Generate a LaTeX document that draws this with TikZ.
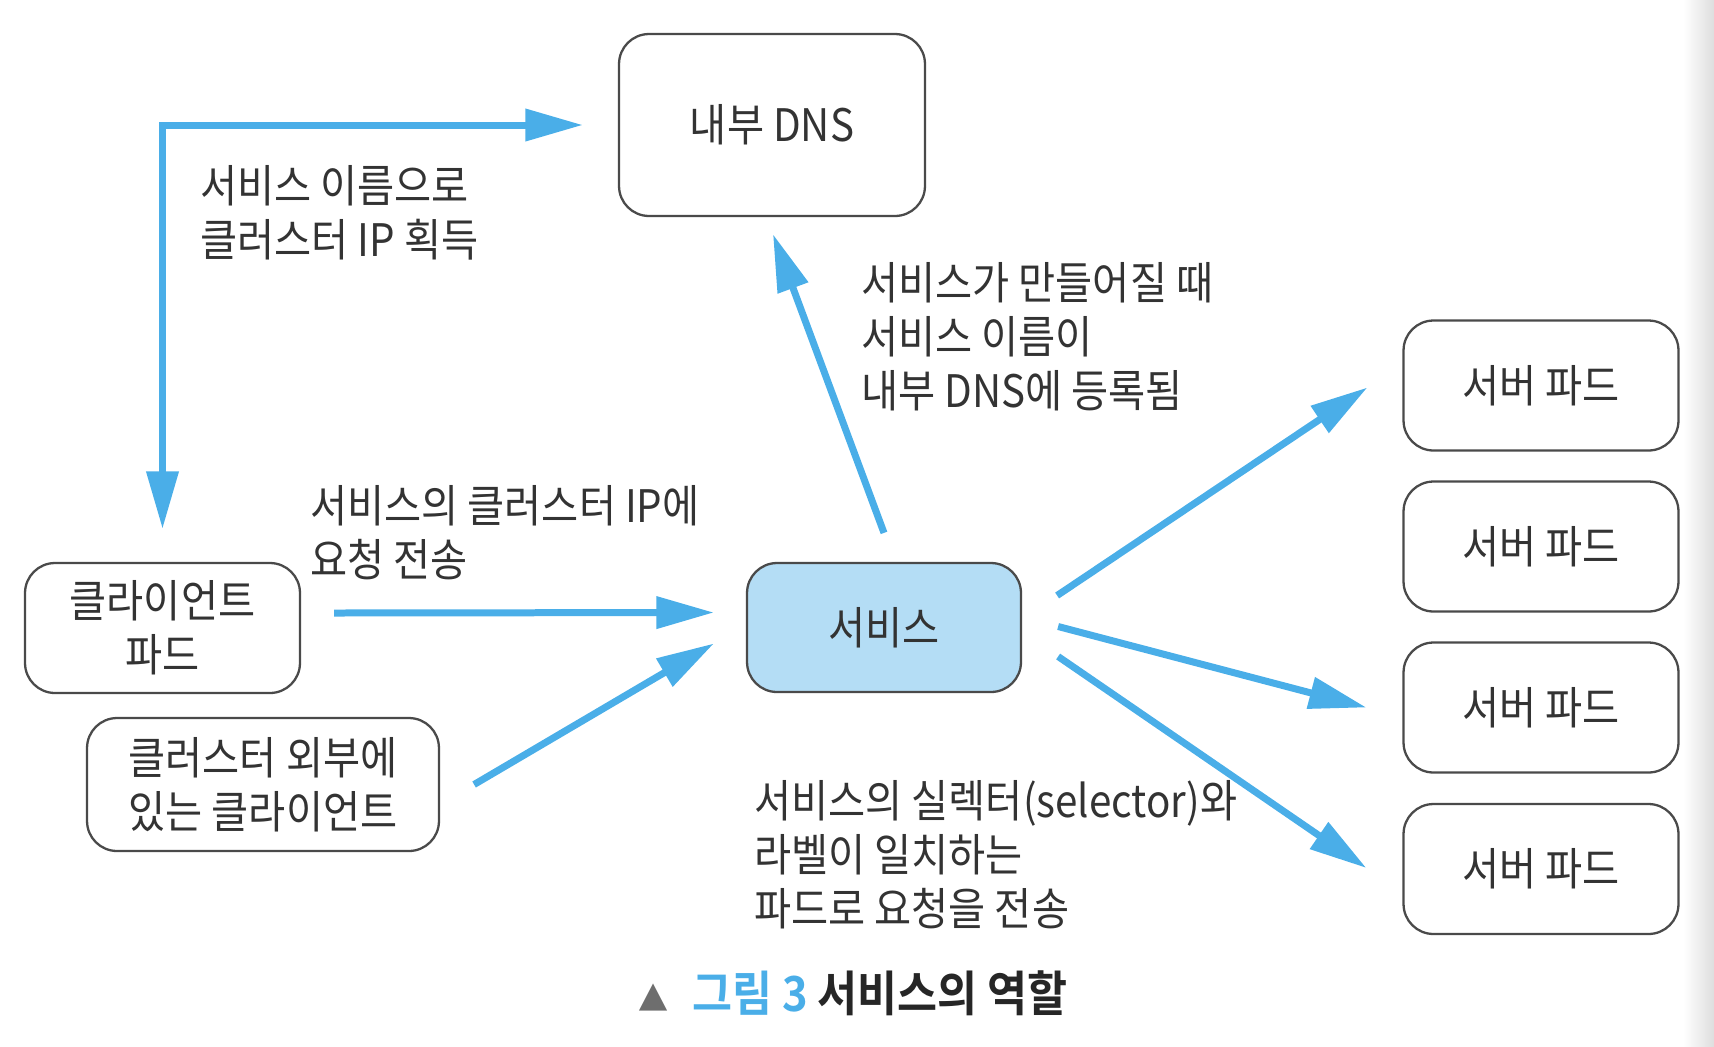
\documentclass[tikz,border=0pt]{standalone}
\usepackage{fontspec}
\setmainfont{Noto Sans CJK KR}[FakeStretch=0.9, BoldFont={Noto Sans CJK KR Bold}]
\usepackage{tikz}
\usetikzlibrary{arrows.meta}
\usetikzlibrary{calc}
\definecolor{flow}{HTML}{4AAEE8}
\definecolor{svcfill}{HTML}{B4DDF5}
\definecolor{edge}{HTML}{4A4A4A}
\definecolor{ink}{HTML}{333333}
\definecolor{capgray}{HTML}{6E6E6E}

\begin{document}
\begin{tikzpicture}[
        x=0.02cm, y=-0.02cm,
        every node/.style={font=\fontsize{25.5}{30.7}\selectfont, text=ink},
        box/.style={draw=edge, line width=1.3pt, rounded corners=0.6cm, align=center, minimum width=5.5cm, minimum height=2.6cm},
        note/.style={anchor=west, align=left, inner sep=0pt},
        arrow/.style={-{Triangle[length=1.15cm,width=0.62cm]}, line width=0.14cm, flow},
        twoway/.style={{Triangle[length=1.15cm,width=0.62cm]}-{Triangle[length=1.15cm,width=0.62cm]}, line width=0.14cm, flow},
    ]
    \useasboundingbox (0,0) rectangle (1714,1046);
    \shade[left color=white, right color=black!13] (1683,0) rectangle (1714,1046);
    \node[box, minimum width=6.12cm, minimum height=3.64cm] (dns) at (772,125) {내부 DNS};
    \node[box] (client) at (162.5,628) {클라이언트\\파드};
    \node[box, minimum width=7.04cm, minimum height=2.66cm] (outer) at (263,784.5) {클러스터 외부에\\있는 클라이언트};
    \node[box, fill=svcfill, minimum width=5.48cm, minimum height=2.58cm] (svc) at (884,627.5) {서비스};
    \foreach \i/\y in {1/385.5, 2/546.5, 3/707.5, 4/869}
        \node[box] (pod\i) at (1541,\y) {서버 파드};
    \node[note] (lblname) at (200,213) {서비스 이름으로\\클러스터 IP 획득};
    \node[note] (lblreg) at (861,337) {서비스가 만들어질 때\\서비스 이름이\\내부 DNS에 등록됨};
    \node[note] (lblip) at (310,533) {서비스의 클러스터 IP에\\요청 전송};
    \node[note] (lblsel) at (754,855) {서비스의 실렉터(selector)와\\라벨이 일치하는\\파드로 요청을 전송};
    \node[font=\fontsize{27.5}{30}\selectfont\bfseries] (caption) at (853,993) {{\color{capgray}\fontsize{19}{20}\selectfont ▲}\hspace{0.3em} {\color{flow}그림 3} {\color{black!85}서비스의 역할}};
    \draw[twoway] ($(client.north)+(0,-33)$) |- ($(dns.west)+(-35,0)$);
    \draw[arrow] ($(svc.north)+(0,-29)$) -- ($(dns.south)+(1,17)$);
    \draw[arrow] ($(client.east)+(33,-15)$) -- ($(svc.west)+(-32,-15)$);
    \draw[arrow] ($(outer.east)+(34,0)$) -- ($(svc.west)+(-32,16)$);
    \draw[arrow] ($(svc.east)+(35,-32)$) -- ($(pod1.west)+(-35,2)$);
    \draw[arrow] ($(svc.east)+(36,-1)$) -- ($(pod3.west)+(-36,0)$);
    \draw[arrow] ($(svc.east)+(36,29)$) -- ($(pod4.west)+(-36,-1)$);
\end{tikzpicture}
\end{document}
